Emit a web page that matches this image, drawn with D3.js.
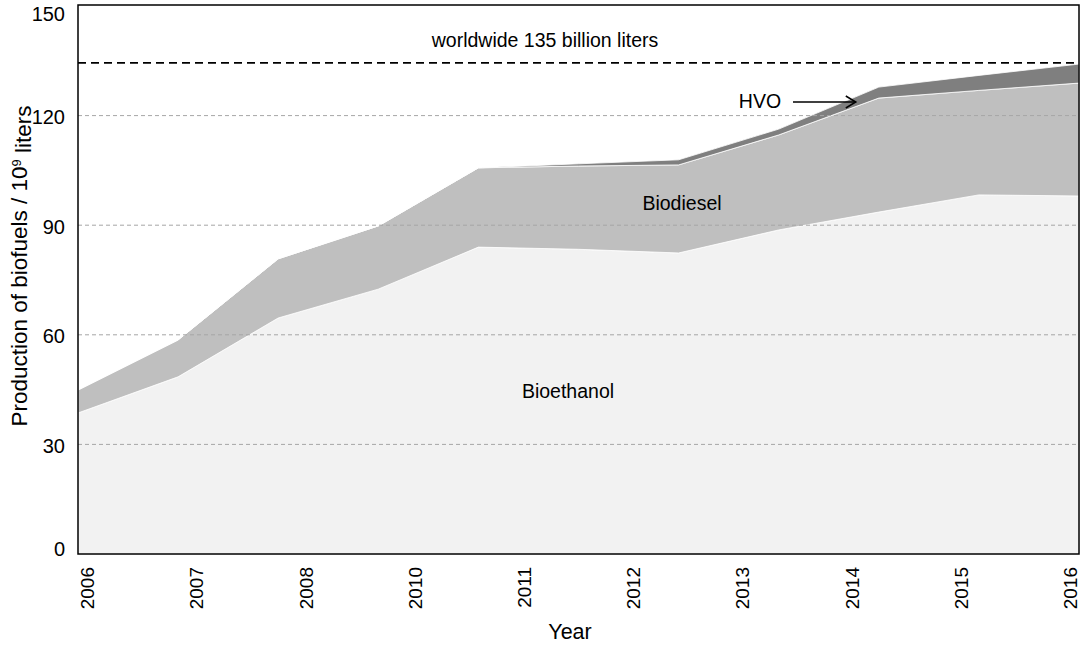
<!DOCTYPE html>
<html>
<head>
<meta charset="utf-8">
<script src="https://cdn.jsdelivr.net/npm/d3@7"></script>
<style>
  body { margin: 0; background: #fff; }
  svg { font-family: "Liberation Sans", Arial, sans-serif; }
</style>
</head>
<body>
<script>
// data (10^9 liters)
var years = [2006, 2007, 2008, 2009, 2010, 2011, 2012, 2013, 2014, 2015, 2016];
var bioethanol = [38.6, 48.5, 64.6, 72.5, 84.0, 83.4, 82.4, 88.7, 93.6, 98.3, 98.0];
var biodiesel  = [6.3, 10.1, 16.2, 17.3, 21.7, 22.8, 24.1, 26.0, 31.2, 28.6, 30.9];
var hvo        = [0, 0, 0, 0, 0, 0.6, 1.4, 1.6, 3.0, 4.1, 5.2];
var yearLabels = ["2006", "2007", "2008", "2010", "2011", "2012", "2013", "2014", "2015", "2016"];
var yTicks = [0, 30, 60, 90, 120, 150];
var gridTicks = [30, 60, 90, 120];
var worldwide = 135;

var W = 1084, H = 645;
var plot = {left: 78, right: 1079, top: 6, bottom: 554};

var svg = d3.select("body").append("svg")
    .attr("width", W)
    .attr("height", H);

// scales
var x = d3.scalePoint().domain(years).range([plot.left, plot.right]);
var xLab = d3.scalePoint().domain(yearLabels).range([87, 1070]);
var y = d3.scaleLinear().domain([0, 150]).range([plot.bottom, plot.top]);

// stack the series
var table = years.map(function(yr, i) {
    return {year: yr, Bioethanol: bioethanol[i], Biodiesel: biodiesel[i], HVO: hvo[i]};
});
var keys = ["Bioethanol", "Biodiesel", "HVO"];
var colors = {Bioethanol: "#f2f2f2", Biodiesel: "#bfbfbf", HVO: "#7f7f7f"};
var series = d3.stack().keys(keys)(table);

var area = d3.area()
    .x(function(d) { return x(d.data.year); })
    .y0(function(d) { return y(d[0]); })
    .y1(function(d) { return y(d[1]); });

svg.selectAll(".layer")
    .data(series)
    .enter()
    .append("path")
    .attr("class", "layer")
    .attr("d", area)
    .style("fill", function(d) { return colors[d.key]; })
    .style("stroke", "#ffffff")
    .style("stroke-width", 0.8);

// gridlines on top of the areas
svg.selectAll(".grid")
    .data(gridTicks)
    .enter()
    .append("line")
    .attr("class", "grid")
    .attr("x1", plot.left)
    .attr("x2", plot.right)
    .attr("y1", function(d) { return y(d); })
    .attr("y2", function(d) { return y(d); })
    .style("stroke", "#a6a6a6")
    .style("stroke-width", 1)
    .style("stroke-dasharray", "4,3");

// worldwide reference line
svg.append("line")
    .attr("x1", plot.left)
    .attr("x2", plot.right)
    .attr("y1", y(worldwide) + 2)
    .attr("y2", y(worldwide) + 2)
    .style("stroke", "#000")
    .style("stroke-width", 1.8)
    .style("stroke-dasharray", "8,5");

svg.append("text")
    .attr("x", 545)
    .attr("y", y(worldwide) - 14)
    .attr("text-anchor", "middle")
    .style("font-size", "19.5px")
    .text("worldwide 135 billion liters");

// frame
svg.append("rect")
    .attr("x", plot.left)
    .attr("y", plot.top - 1)
    .attr("width", plot.right - plot.left)
    .attr("height", plot.bottom - plot.top + 1)
    .style("fill", "none")
    .style("stroke", "#000")
    .style("stroke-width", 1.5);

// y axis
var yAxis = svg.append("g")
    .attr("transform", "translate(" + plot.left + ",0)")
    .call(d3.axisLeft(y).tickValues(yTicks).tickSize(0).tickPadding(13));
yAxis.select(".domain").remove();
yAxis.selectAll("text")
    .style("font-size", "20px")
    .style("font-family", "Liberation Sans, Arial, sans-serif")
    .style("fill", "#000")
    .attr("dy", function(d) { return d === 150 ? "0.7em" : (d === 0 ? "0.05em" : "0.4em"); });

// x axis (rotated year labels)
var xAxis = svg.append("g")
    .attr("transform", "translate(0," + plot.bottom + ")")
    .call(d3.axisBottom(xLab).tickSize(0));
xAxis.select(".domain").remove();
xAxis.selectAll("text")
    .style("font-size", "19px")
    .style("font-family", "Liberation Sans, Arial, sans-serif")
    .style("fill", "#000")
    .attr("transform", "rotate(-90)")
    .attr("text-anchor", "end")
    .attr("x", -13)
    .attr("y", 0)
    .attr("dy", "0.35em");

// axis titles
svg.append("text")
    .attr("x", 570)
    .attr("y", 639)
    .attr("text-anchor", "middle")
    .style("font-size", "21.5px")
    .text("Year");

var yTitle = svg.append("text")
    .attr("transform", "translate(27,266) rotate(-90)")
    .attr("text-anchor", "middle")
    .style("font-size", "22.5px");
yTitle.append("tspan").text("Production of biofuels / 10");
yTitle.append("tspan").attr("dy", "-0.45em").style("font-size", "13px").text("9");
yTitle.append("tspan").attr("dy", "0.45em").text(" liters");

// series labels
svg.append("text")
    .attr("x", 568)
    .attr("y", 398)
    .attr("text-anchor", "middle")
    .style("font-size", "19.5px")
    .text("Bioethanol");

svg.append("text")
    .attr("x", 682)
    .attr("y", 210)
    .attr("text-anchor", "middle")
    .style("font-size", "19.5px")
    .text("Biodiesel");

svg.append("text")
    .attr("x", 760)
    .attr("y", 108)
    .attr("text-anchor", "middle")
    .style("font-size", "19.5px")
    .text("HVO");

// arrow pointing at the HVO band
var tipX = x(2014) - 23, tipY = 102;
svg.append("line")
    .attr("x1", 793)
    .attr("x2", tipX)
    .attr("y1", tipY)
    .attr("y2", tipY)
    .style("stroke", "#000")
    .style("stroke-width", 1.5);
svg.append("path")
    .attr("d", "M" + (tipX - 10) + "," + (tipY - 6) + "L" + tipX + "," + tipY + "L" + (tipX - 10) + "," + (tipY + 6))
    .style("fill", "none")
    .style("stroke", "#000")
    .style("stroke-width", 1.5);
</script>
</body>
</html>
